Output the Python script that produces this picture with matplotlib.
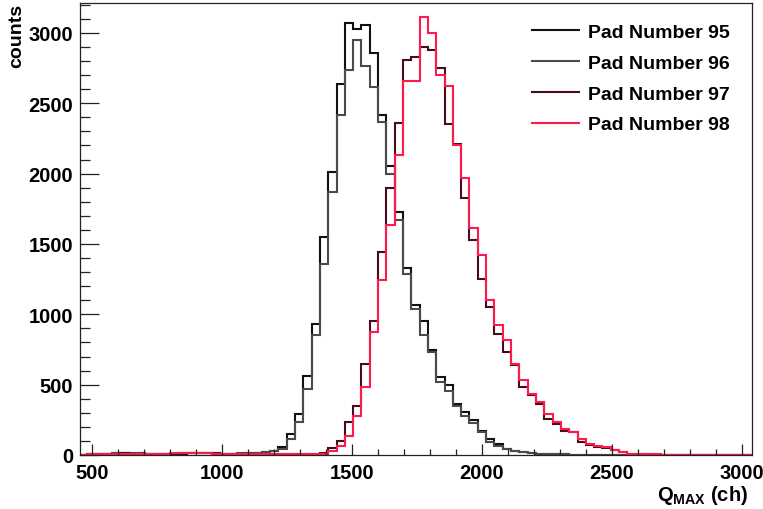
import numpy as np
import matplotlib
matplotlib.use("Agg")
import matplotlib.pyplot as plt
from matplotlib.ticker import MultipleLocator

plt.rcParams["font.family"] = ["Liberation Sans", "DejaVu Sans"]
plt.rcParams["mathtext.fontset"] = "custom"
plt.rcParams["mathtext.bf"] = "Liberation Sans:bold"
plt.rcParams["mathtext.rm"] = "Liberation Sans"

# ---------------------------------------------
# Histogram data (32 channel bins, 448 - 3040)
# ---------------------------------------------

edges = np.arange(448, 3041, 32)

pad95 = [2, 6, 8, 10, 12, 12, 14, 12, 10, 9, 8, 8, 10, 12, 15, 14, 12, 10, 9, 10,
         12, 15, 20, 31, 55, 150, 292, 565, 934, 1551, 2015, 2637, 3070, 3030, 3060, 2858,
         2414, 2051, 1730, 1331, 1064, 950, 743, 554, 494, 363, 304, 250, 173, 114,
         78, 45, 31, 21, 15, 10, 8, 5, 4, 3, 3, 2, 2, 1, 1, 1, 1, 0, 0, 0,
         0, 0, 0, 0, 0, 0, 0, 0, 0, 0, 0]
pad96 = [1, 5, 7, 9, 11, 13, 12, 11, 9, 8, 7, 9, 11, 14, 13, 12, 10, 9, 8, 11,
         13, 16, 18, 25, 45, 114, 233, 470, 850, 1361, 1872, 2418, 2739, 2953, 2763, 2616,
         2370, 2000, 1670, 1290, 1041, 850, 732, 518, 458, 351, 280, 228, 160, 95,
         66, 40, 28, 20, 14, 10, 7, 5, 4, 3, 2, 2, 1, 1, 1, 1, 0, 0, 0, 0,
         0, 0, 0, 0, 0, 0, 0, 0, 0, 0, 0]
pad97 = [2, 5, 7, 9, 10, 11, 10, 9, 8, 8, 9, 10, 12, 14, 16, 14, 12, 10, 9, 8,
         8, 8, 7, 7, 7, 8, 8, 9, 10, 15, 50, 102, 233, 351, 649, 950, 1445, 1896,
         2360, 2810, 2830, 2900, 2880, 2750, 2350, 2212, 1825, 1527, 1250, 1053, 862,
         732, 640, 482, 423, 365, 257, 221, 173, 160, 90, 72, 60, 50, 35, 18, 10,
         6, 5, 3, 3, 2, 2, 1, 1, 1, 0, 0, 0, 0, 0]
pad98 = [1, 4, 6, 8, 9, 10, 9, 8, 7, 8, 9, 11, 13, 15, 14, 12, 10, 9, 8, 7,
         7, 7, 6, 6, 7, 7, 8, 8, 9, 10, 30, 66, 138, 280, 482, 874, 1242, 1634,
         2130, 2660, 2660, 3112, 3000, 2700, 2620, 2205, 1967, 1611, 1421, 1100, 922,
         815, 649, 530, 435, 375, 292, 233, 185, 165, 114, 78, 66, 55, 38, 19, 10,
         7, 5, 4, 3, 2, 2, 1, 1, 1, 1, 0, 0, 0, 0]

labels = ["Pad Number 95", "Pad Number 96", "Pad Number 97", "Pad Number 98"]
colors = ["#111111", "#4a4a4a", "#4a0c1c", "#ff1a4c"]

# ---------------------------------------------
# Plot
# ---------------------------------------------

fig = plt.figure(figsize=(7.63, 5.10), dpi=100)
ax = fig.add_axes([0.1048, 0.1059, 0.8808, 0.8863])

for counts, label, color in zip([pad95, pad96, pad97, pad98], labels, colors):
    ax.stairs(counts, edges, color=color, linewidth=1.5, label=label)

ax.set_xlim(452, 3040)
ax.set_ylim(0, 3213)

ax.xaxis.set_major_locator(MultipleLocator(500))
ax.xaxis.set_minor_locator(MultipleLocator(100))
ax.yaxis.set_major_locator(MultipleLocator(500))
ax.yaxis.set_minor_locator(MultipleLocator(100))

ax.tick_params(axis="both", which="both", direction="in", top=False, right=False,
               width=0.9, color="#222222", labelsize=14.5)
ax.tick_params(axis="x", which="major", length=8, pad=6)
ax.tick_params(axis="x", which="minor", length=4.3)
ax.tick_params(axis="y", which="major", length=13.7, pad=5)
ax.tick_params(axis="y", which="minor", length=7)
for lab in ax.get_xticklabels() + ax.get_yticklabels():
    lab.set_fontweight("bold")

for side in ax.spines.values():
    side.set_linewidth(0.9)
    side.set_color("#222222")

fig.text(0.022, 0.993, "counts", rotation=90, ha="center", va="top",
         fontsize=14, fontweight="bold")
fig.text(0.981, 0.006, r"$\mathbf{Q_{MAX}}$ (ch)", ha="right", va="bottom",
         fontsize=14.5, fontweight="bold")

ax.legend(loc="upper right", bbox_to_anchor=(0.967, 0.955), frameon=False,
          prop={"weight": "bold", "size": 14}, handlelength=2.45,
          handletextpad=0.45, labelspacing=0.68, borderpad=0, borderaxespad=0)

plt.savefig("out.png", dpi=100)
plt.close()
